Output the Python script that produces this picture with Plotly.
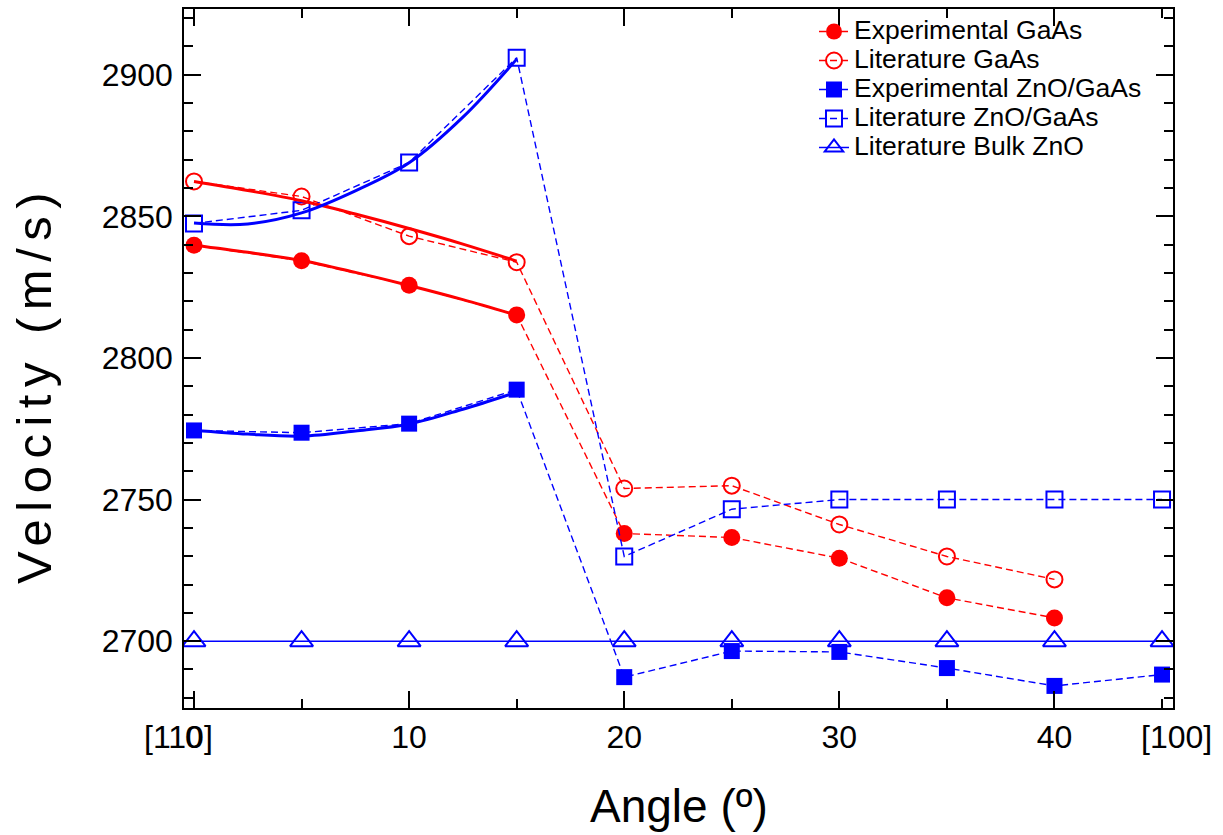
import plotly.graph_objects as go

# ---- data ----
angles = [0, 5, 10, 15, 20, 25, 30, 35, 40, 45]
angles_gaas = [0, 5, 10, 15, 20, 25, 30, 35, 40]
exp_gaas = [2839.8, 2834.3, 2825.7, 2815.2, 2738.0, 2736.6, 2729.3, 2715.3, 2708.2]
lit_gaas = [2862.3, 2857.0, 2843.0, 2833.8, 2753.9, 2754.9, 2741.2, 2729.9, 2721.8]
exp_zno = [2774.4, 2773.6, 2776.8, 2788.8, 2687.3, 2696.5, 2696.2, 2690.5, 2684.2, 2688.2]
lit_zno = [2847.5, 2852.1, 2869.0, 2906.0, 2729.9, 2746.6, 2750.0, 2750.0, 2750.0, 2750.0]
bulk_zno = [2700, 2700, 2700, 2700, 2700, 2700, 2700, 2700, 2700, 2700]

# fitted (solid) curves
fit_angles = [0, 2.5, 5, 7.5, 10, 12.5, 15]
fit_exp_gaas = [2839.8, 2837.3, 2834.4, 2830.2, 2825.6, 2820.6, 2815.1]
fit_lit_gaas = [2862.3, 2859.1, 2855.5, 2850.8, 2845.7, 2840.2, 2834.2]
fit_lit_zno = [2847.6, 2847.3, 2851.2, 2859.0, 2868.9, 2885.0, 2905.5]
fit_exp_zno = [2774.5, 2773.1, 2772.4, 2774.2, 2776.7, 2781.9, 2787.9]

x_end_labels = ["[110]", "[100]"]
series_names = ["Experimental GaAs", "Literature GaAs", "Experimental ZnO/GaAs",
                "Literature ZnO/GaAs", "Literature Bulk ZnO"]

RED = "#ff0000"
BLUE = "#0000ff"
FONT = "Liberation Sans, Arial, sans-serif"

def leg(name):
    return '<span style="font-size:26.5px">' + name + '</span>'

fig = go.Figure()

dash = "7px,4px"

fig.add_trace(go.Scatter(x=angles_gaas, y=exp_gaas, mode="lines+markers", name=leg(series_names[0]),
                         line=dict(color=RED, width=1.4, dash=dash),
                         marker=dict(symbol="circle", size=17, color=RED, line=dict(width=0))))
fig.add_trace(go.Scatter(x=angles_gaas, y=lit_gaas, mode="lines+markers", name=leg(series_names[1]),
                         line=dict(color=RED, width=1.4, dash=dash),
                         marker=dict(symbol="circle-open", size=16, color=RED, line=dict(width=2, color=RED))))
fig.add_trace(go.Scatter(x=angles, y=exp_zno, mode="lines+markers", name=leg(series_names[2]),
                         line=dict(color=BLUE, width=1.4, dash=dash),
                         marker=dict(symbol="square", size=16, color=BLUE, line=dict(width=0))))
fig.add_trace(go.Scatter(x=angles, y=lit_zno, mode="lines+markers", name=leg(series_names[3]),
                         line=dict(color=BLUE, width=1.4, dash=dash),
                         marker=dict(symbol="square-open", size=16, color=BLUE, line=dict(width=2, color=BLUE))))
fig.add_trace(go.Scatter(x=angles, y=bulk_zno, mode="lines+markers", name=leg(series_names[4]),
                         line=dict(color=BLUE, width=1.5),
                         marker=dict(symbol="triangle-up-open", size=20, color=BLUE, line=dict(width=2, color=BLUE))))

for fy, col in [(fit_exp_gaas, RED), (fit_lit_gaas, RED), (fit_lit_zno, BLUE), (fit_exp_zno, BLUE)]:
    fig.add_trace(go.Scatter(x=fit_angles, y=fy, mode="lines", showlegend=False, hoverinfo="skip",
                             line=dict(color=col, width=3, shape="spline", smoothing=1.0)))

# plot area: x 184..1173, y 7..708
L, R, T, B = 184, 50, 7, 127
W, H = 1223, 835
pw, ph = W - L - R, H - T - B

def px_to_paper_x(px):
    return (px - L) / pw

def py_to_paper_y(py):
    return (H - B - py) / ph

axis_common = dict(showline=True, linecolor="black", linewidth=1.5, mirror="ticks",
                   ticks="inside", tickcolor="black", tickwidth=1.5, ticklen=17,
                   showgrid=False, zeroline=False,
                   tickfont=dict(family=FONT, size=32, color="black"))

fig.update_layout(
    width=W, height=H,
    margin=dict(l=L, r=R, t=T, b=B),
    paper_bgcolor="white", plot_bgcolor="white",
    font=dict(family=FONT, color="black"),
    showlegend=True,
    legend=dict(x=px_to_paper_x(814), y=py_to_paper_y(10), xanchor="left", yanchor="top",
                bgcolor="rgba(0,0,0,0)", borderwidth=0,
                font=dict(family=FONT, size=20, color="black"), tracegroupgap=0),
    xaxis=dict(range=[-0.465, 45.51], tickmode="linear", tick0=0, dtick=10,
               minor=dict(ticks="inside", dtick=5, tick0=0, ticklen=9, tickwidth=1.5, tickcolor="black"),
               **axis_common),
    yaxis=dict(range=[2676.4, 2923.2], tickmode="linear", tick0=2700, dtick=50,
               minor=dict(ticks="inside", dtick=10, tick0=2700, ticklen=9, tickwidth=1.5, tickcolor="black"),
               ticklabelstandoff=3,
               **axis_common),
)

annotations = [
    dict(text=x_end_labels[0], xref="paper", yref="paper", x=px_to_paper_x(178.5), y=py_to_paper_y(737),
         xanchor="center", yanchor="middle", showarrow=False, font=dict(family=FONT, size=32, color="black")),
    dict(text=x_end_labels[1], xref="paper", yref="paper", x=px_to_paper_x(1176.5), y=py_to_paper_y(737),
         xanchor="center", yanchor="middle", showarrow=False, font=dict(family=FONT, size=32, color="black")),
    dict(text="Angle (º)", xref="paper", yref="paper", x=px_to_paper_x(678.5), y=py_to_paper_y(806),
         xanchor="center", yanchor="middle", showarrow=False, font=dict(family=FONT, size=46, color="black")),
    dict(text='<span style="letter-spacing:7.5px">Velocity (m/s)</span>', xref="paper", yref="paper",
         x=px_to_paper_x(34), y=py_to_paper_y(384),
         xanchor="center", yanchor="middle", textangle=-90, showarrow=False,
         font=dict(family=FONT, size=49, color="black")),
]
fig.update_layout(annotations=annotations)

fig.write_html("out.html")
